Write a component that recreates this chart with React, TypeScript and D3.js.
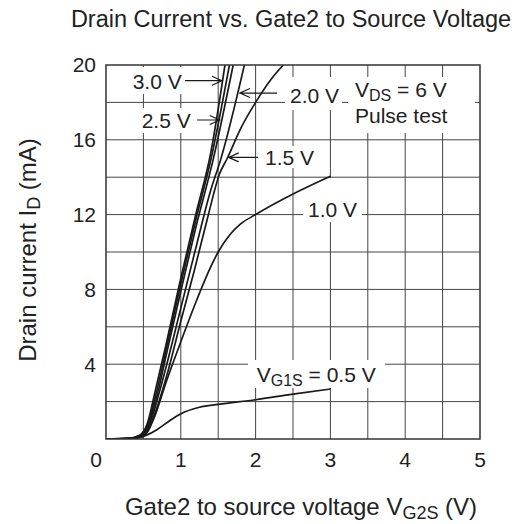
import React from "react";
import * as d3 from "d3";

// Drain current ID (mA) vs VG2S (V), one curve per VG1S
const xTicks = [1, 2, 3, 4, 5];
const yTicks = [4, 8, 12, 16, 20];

const curve30: [number, number][] = [[0, 0], [0.3, 0.03], [0.45, 0.2], [0.55, 0.8], [0.66, 2.6], [0.8, 5.0], [1.0, 8.6], [1.2, 12.0], [1.4, 15.3], [1.59, 20]];
const curve25: [number, number][] = [[0, 0], [0.3, 0.03], [0.45, 0.18], [0.55, 0.7], [0.68, 2.6], [0.8, 4.7], [1.0, 8.3], [1.2, 11.7], [1.4, 14.9], [1.65, 20]];
const curveX: [number, number][] = [[0, 0], [0.3, 0.03], [0.45, 0.16], [0.55, 0.6], [0.7, 2.6], [0.8, 4.4], [1.0, 7.9], [1.2, 11.3], [1.43, 14.9], [1.7, 20]];
const curve20: [number, number][] = [[0, 0], [0.3, 0.02], [0.45, 0.14], [0.55, 0.5], [0.72, 2.6], [0.8, 3.8], [1.0, 7.0], [1.2, 10.2], [1.4, 13.3], [1.53, 14.9], [1.85, 20]];
const curve15: [number, number][] = [[0, 0], [0.3, 0.02], [0.45, 0.1], [0.55, 0.4], [0.7, 1.9], [0.82, 3.5], [1.0, 6.3], [1.18, 9.0], [1.35, 11.7], [1.52, 14.2], [1.62, 15.0], [1.8, 16.6], [2.0, 18.0], [2.2, 19.2], [2.37, 20]];
const curve10: [number, number][] = [[0, 0], [0.3, 0.02], [0.45, 0.08], [0.55, 0.35], [0.65, 1.2], [0.8, 3.0], [1.0, 5.2], [1.2, 7.3], [1.4, 9.2], [1.5, 10.0], [1.65, 10.9], [1.8, 11.5], [2.0, 12.0], [2.5, 13.1], [3.0, 14.05]];
const curve05: [number, number][] = [[0, 0], [0.3, 0.02], [0.45, 0.08], [0.55, 0.22], [0.68, 0.5], [0.86, 1.0], [1.0, 1.35], [1.25, 1.7], [1.5, 1.85], [2.0, 2.1], [2.5, 2.4], [3.0, 2.67]];

const curves = [curve30, curve25, curveX, curve20, curve15, curve10, curve05];

const W = 528;
const H = 524;
const font = "'Liberation Sans', Arial, sans-serif";
const ink = "#222";

export default function App() {
  const x = d3.scaleLinear().domain([0, 5]).range([106, 480]);
  const y = d3.scaleLinear().domain([0, 20]).range([439, 65]);

  const line = d3
    .line<[number, number]>()
    .x((d) => x(d[0]))
    .y((d) => y(d[1]))
    .curve(d3.curveMonotoneX);

  const vGrid = d3.range(0.5, 5, 0.5);
  const hGrid = d3.range(2, 20, 2);

  // white boxes behind the in-plot labels (they hide the grid, not the curves)
  const boxes = [
    { x0: 129, x1: 185, y0: 67, y1: 94 },
    { x0: 138, x1: 194, y0: 108, y1: 133 },
    { x0: 285, x1: 342, y0: 77, y1: 110 },
    { x0: 348, x1: 475, y0: 77, y1: 133 },
    { x0: 261, x1: 312, y0: 146, y1: 168 },
    { x0: 303, x1: 362, y0: 178, y1: 222 },
    { x0: 248, x1: 385, y0: 360, y1: 388 },
  ];

  // arrows: start next to the label, tip on the curve
  const arrows = [
    { x1: 185, tip: [1.55, 19.16] },
    { x1: 197, tip: [1.52, 17.06] },
    { x1: 277, tip: [1.79, 18.5] },
    { x1: 258, tip: [1.64, 15.06] },
  ];

  const arrowPath = (a: { x1: number; tip: number[] }) => {
    const tx = x(a.tip[0]);
    const ty = y(a.tip[1]);
    const dir = tx > a.x1 ? 1 : -1;
    return `M${a.x1},${ty}L${tx},${ty}M${tx - dir * 10},${ty - 4.5}L${tx},${ty}L${tx - dir * 10},${ty + 4.5}`;
  };

  return (
    <div style={{ position: "absolute", left: 0, top: 0 }}>
      <svg width={W} height={H} style={{ display: "block", background: "#fff" }} fontFamily={font}>
        <defs>
          <clipPath id="plot">
            <rect x={106} y={65} width={374} height={374} />
          </clipPath>
        </defs>
        <text x={291} y={27} textAnchor="middle" fontSize={23.5} fill={ink}>
          Drain Current vs. Gate2 to Source Voltage
        </text>

        {vGrid.map((v) => (
          <line key={"v" + v} x1={x(v)} x2={x(v)} y1={y(0)} y2={y(20)} stroke="#444" strokeWidth={1} />
        ))}
        {hGrid.map((v) => (
          <line key={"h" + v} x1={x(0)} x2={x(5)} y1={y(v)} y2={y(v)} stroke="#444" strokeWidth={1} />
        ))}

        {boxes.map((b, i) => (
          <rect key={i} x={b.x0} y={b.y0} width={b.x1 - b.x0} height={b.y1 - b.y0} fill="#fff" />
        ))}

        <g clipPath="url(#plot)">
          {curves.map((c, i) => (
            <path key={i} d={line(c) ?? ""} fill="none" stroke="#1a1a1a" strokeWidth={1.7} />
          ))}
        </g>

        <rect x={x(0)} y={y(20)} width={x(5) - x(0)} height={y(0) - y(20)} fill="none" stroke="#333" strokeWidth={1.5} />

        {arrows.map((a, i) => (
          <path key={i} d={arrowPath(a)} fill="none" stroke="#1a1a1a" strokeWidth={1.2} />
        ))}

        <g fontSize={21} fill={ink}>
          <text x={132.7} y={89}>3.0 V</text>
          <text x={141.7} y={128}>2.5 V</text>
          <text x={290} y={103}>2.0 V</text>
          <text x={265} y={165}>1.5 V</text>
          <text x={308} y={217}>1.0 V</text>
          <text x={355} y={97}>
            V<tspan fontSize={16} dy={4}>DS</tspan>
            <tspan dy={-4}> = 6 V</tspan>
          </text>
          <text x={355} y={123}>Pulse test</text>
          <text x={256.7} y={382}>
            V<tspan fontSize={16} dy={4}>G1S</tspan>
            <tspan dy={-4}> = 0.5 V</tspan>
          </text>
        </g>

        <g fontSize={21} fill={ink}>
          {yTicks.map((t) => (
            <text key={t} x={96} y={y(t)} dy="0.35em" textAnchor="end">
              {t}
            </text>
          ))}
          <text x={96} y={467} textAnchor="middle">0</text>
          {xTicks.map((t) => (
            <text key={t} x={x(t)} y={467} textAnchor="middle">
              {t}
            </text>
          ))}
        </g>

        <text x={301} y={515} textAnchor="middle" fontSize={24} fill={ink}>
          Gate2 to source voltage V<tspan fontSize={18} dy={4}>G2S</tspan>
          <tspan dy={-4}> (V)</tspan>
        </text>
        <text transform={`translate(36,250) rotate(-90)`} textAnchor="middle" fontSize={24} fill={ink}>
          Drain current I<tspan fontSize={18} dy={4}>D</tspan>
          <tspan dy={-4}> (mA)</tspan>
        </text>
      </svg>
    </div>
  );
}
